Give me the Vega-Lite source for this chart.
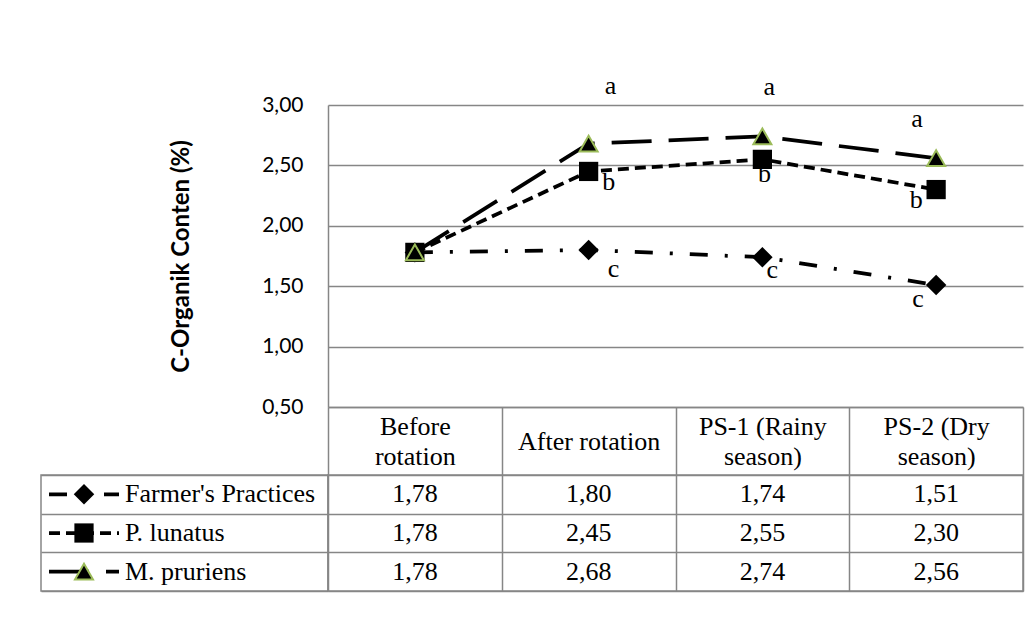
{
  "$schema": "https://vega.github.io/schema/vega-lite/v6.json",
  "padding": {"left": 40, "top": 72, "right": 5, "bottom": 5},
  "autosize": {"type": "pad"},
  "background": "white",
  "datasets": {
    "soil": [
      {"series": "Farmer's Practices", "period": "Before rotation", "value": 1.78, "sig": ""},
      {"series": "Farmer's Practices", "period": "After rotation", "value": 1.80, "sig": "c"},
      {"series": "Farmer's Practices", "period": "PS-1 (Rainy season)", "value": 1.74, "sig": "c"},
      {"series": "Farmer's Practices", "period": "PS-2 (Dry season)", "value": 1.51, "sig": "c"},
      {"series": "P. lunatus", "period": "Before rotation", "value": 1.78, "sig": ""},
      {"series": "P. lunatus", "period": "After rotation", "value": 2.45, "sig": "b"},
      {"series": "P. lunatus", "period": "PS-1 (Rainy season)", "value": 2.55, "sig": "b"},
      {"series": "P. lunatus", "period": "PS-2 (Dry season)", "value": 2.30, "sig": "b"},
      {"series": "M. pruriens", "period": "Before rotation", "value": 1.78, "sig": ""},
      {"series": "M. pruriens", "period": "After rotation", "value": 2.68, "sig": "a"},
      {"series": "M. pruriens", "period": "PS-1 (Rainy season)", "value": 2.74, "sig": "a"},
      {"series": "M. pruriens", "period": "PS-2 (Dry season)", "value": 2.56, "sig": "a"}
    ]
  },
  "data": {"name": "soil"},
  "columns": 2,
  "spacing": {"row": 68, "column": 0},
  "bounds": "flush",
  "concat": [
    {
      "width": 287,
      "height": 302,
      "view": {"stroke": null},
      "data": {"values": []},
      "mark": {"type": "text"},
      "encoding": {}
    },
    {
      "width": 695,
      "height": 302,
      "view": {"stroke": null},
      "encoding": {
        "x": {
          "field": "period", "type": "nominal",
          "sort": ["Before rotation", "After rotation", "PS-1 (Rainy season)", "PS-2 (Dry season)"],
          "scale": {"type": "band", "paddingInner": 0, "paddingOuter": 0},
          "bandPosition": 0.5,
          "axis": {
            "title": null, "orient": "bottom", "grid": false,
            "domain": true, "ticks": true, "tickBand": "extent", "tickSize": 68,
            "labelExpr": "datum.label === 'After rotation' ? datum.label : [substring(datum.label, 0, lastindexof(datum.label, ' ')), substring(datum.label, lastindexof(datum.label, ' ') + 1)]",
            "labelFont": "Liberation Serif", "labelFontSize": 26, "labelColor": "black",
            "labelBaseline": "middle",
            "labelPadding": {"condition": {"test": "datum.label === 'After rotation'", "value": -34}, "value": -49},
            "labelLineHeight": 30,
            "labelAngle": 0, "labelLimit": 0, "labelOverlap": false
          }
        },
        "y": {
          "field": "value", "type": "quantitative",
          "scale": {"domain": [0.5, 3], "nice": false, "zero": false},
          "axis": {
            "title": "C-Organik Conten (%)",
            "values": [0.5, 1, 1.5, 2, 2.5, 3],
            "format": ".2f",
            "grid": true, "ticks": false, "domain": true,
            "labelFont": "Lato", "labelFontSize": 21, "labelColor": "black", "labelPadding": 25,
            "titleFont": "Lato", "titleFontSize": 24, "titleFontWeight": "bold", "titleColor": "black",
            "titlePadding": 68
          }
        }
      },
      "layer": [
        {
          "mark": {"type": "line", "color": "black", "strokeWidth": 3.75, "strokeCap": "butt"},
          "encoding": {
            "strokeDash": {
              "field": "series", "type": "nominal",
              "scale": {"domain": ["Farmer's Practices", "P. lunatus", "M. pruriens"], "range": [[18, 17, 3, 17], [11, 6], [40, 17]]},
              "legend": null
            },
            "order": {"value": null}
          }
        },
        {
          "transform": [{"filter": "datum.series === \"Farmer's Practices\""}],
          "mark": {"type": "point", "shape": "diamond", "size": 420, "filled": true, "fill": "black", "opacity": 1, "strokeWidth": 0}
        },
        {
          "transform": [{"filter": "datum.series === 'P. lunatus'"}],
          "mark": {"type": "point", "shape": "square", "size": 370, "filled": true, "fill": "black", "opacity": 1, "strokeWidth": 0}
        },
        {
          "transform": [{"filter": "datum.series === 'M. pruriens'"}],
          "mark": {"type": "point", "shape": "triangle-up", "size": 324, "filled": true, "fill": "black", "stroke": "#9BBB59", "strokeWidth": 2, "opacity": 1}
        },
        {
          "transform": [{"filter": "datum.sig !== ''"}],
          "mark": {
            "type": "text", "font": "Liberation Serif", "fontSize": 26, "color": "black",
            "align": "center", "baseline": "alphabetic",
            "dx": {"expr": "datum.period === 'After rotation' ? (datum.sig === 'a' ? 22 : datum.sig === 'b' ? 20 : 25) : datum.period === 'PS-1 (Rainy season)' ? (datum.sig === 'a' ? 7 : datum.sig === 'b' ? 2 : 10) : (datum.sig === 'a' ? -19 : datum.sig === 'b' ? -20 : -18)"},
            "dy": {"expr": "datum.period === 'After rotation' ? (datum.sig === 'a' ? -50 : datum.sig === 'b' ? 19 : 27) : datum.period === 'PS-1 (Rainy season)' ? (datum.sig === 'a' ? -41 : datum.sig === 'b' ? 23 : 21) : (datum.sig === 'a' ? -31 : datum.sig === 'b' ? 18 : 22)"}
          },
          "encoding": {"text": {"field": "sig", "type": "nominal"}}
        }
      ]
    },
    {
      "width": 287,
      "height": 116,
      "view": {"stroke": "#868686", "strokeWidth": 1.5},
      "transform": [{"filter": "datum.period === 'Before rotation'"}],
      "encoding": {
        "y": {
          "field": "series", "type": "nominal",
          "sort": ["Farmer's Practices", "P. lunatus", "M. pruriens"],
          "scale": {"type": "band", "paddingInner": 0, "paddingOuter": 0},
          "bandPosition": 0.5,
          "axis": {"title": null, "grid": true, "tickBand": "extent", "labels": false, "ticks": false, "domain": false}
        }
      },
      "layer": [
        {
          "mark": {"type": "rule", "color": "black", "strokeWidth": 3.75, "strokeCap": "butt"},
          "encoding": {
            "x": {"datum": 8, "type": "quantitative", "scale": {"domain": [0, 287], "nice": false, "zero": false}, "axis": null},
            "x2": {"datum": 78},
            "strokeDash": {
              "field": "series", "type": "nominal",
              "scale": {"domain": ["Farmer's Practices", "P. lunatus", "M. pruriens"], "range": [[18, 17, 3, 17], [11, 6], [40, 17]]},
              "legend": null
            }
          }
        },
        {
          "transform": [{"filter": "datum.series === \"Farmer's Practices\""}],
          "mark": {"type": "point", "shape": "diamond", "size": 420, "filled": true, "fill": "black", "opacity": 1, "strokeWidth": 0},
          "encoding": {"x": {"datum": 43, "type": "quantitative", "axis": null}}
        },
        {
          "transform": [{"filter": "datum.series === 'P. lunatus'"}],
          "mark": {"type": "point", "shape": "square", "size": 370, "filled": true, "fill": "black", "opacity": 1, "strokeWidth": 0},
          "encoding": {"x": {"datum": 43, "type": "quantitative", "axis": null}}
        },
        {
          "transform": [{"filter": "datum.series === 'M. pruriens'"}],
          "mark": {"type": "point", "shape": "triangle-up", "size": 324, "filled": true, "fill": "black", "stroke": "#9BBB59", "strokeWidth": 2, "opacity": 1},
          "encoding": {"x": {"datum": 43, "type": "quantitative", "axis": null}}
        },
        {
          "mark": {"type": "text", "font": "Liberation Serif", "fontSize": 26, "color": "black", "align": "left", "baseline": "middle"},
          "encoding": {
            "x": {"datum": 84, "type": "quantitative", "axis": null},
            "text": {"field": "series", "type": "nominal"}
          }
        }
      ]
    },
    {
      "width": 695,
      "height": 116,
      "view": {"stroke": "#868686", "strokeWidth": 1.5},
      "mark": {"type": "text", "font": "Liberation Serif", "fontSize": 26, "color": "black", "align": "center", "baseline": "middle"},
      "encoding": {
        "x": {
          "field": "period", "type": "nominal",
          "sort": ["Before rotation", "After rotation", "PS-1 (Rainy season)", "PS-2 (Dry season)"],
          "scale": {"type": "band", "paddingInner": 0, "paddingOuter": 0},
          "bandPosition": 0.5,
          "axis": {"title": null, "grid": true, "tickBand": "extent", "labels": false, "ticks": false, "domain": false}
        },
        "y": {
          "field": "series", "type": "nominal",
          "sort": ["Farmer's Practices", "P. lunatus", "M. pruriens"],
          "scale": {"type": "band", "paddingInner": 0, "paddingOuter": 0},
          "bandPosition": 0.5,
          "axis": {"title": null, "grid": true, "tickBand": "extent", "labels": false, "ticks": false, "domain": false}
        },
        "text": {"field": "value", "type": "quantitative", "format": ".2f"}
      }
    }
  ],
  "config": {
    "font": "Liberation Serif",
    "view": {"stroke": null},
    "locale": {"number": {"decimal": ",", "thousands": ".", "grouping": [3], "currency": ["", ""]}},
    "axis": {
      "gridColor": "#868686", "gridWidth": 1.5, "gridOpacity": 1,
      "domainColor": "#868686", "domainWidth": 1.5,
      "tickColor": "#868686", "tickWidth": 1.5
    }
  }
}
